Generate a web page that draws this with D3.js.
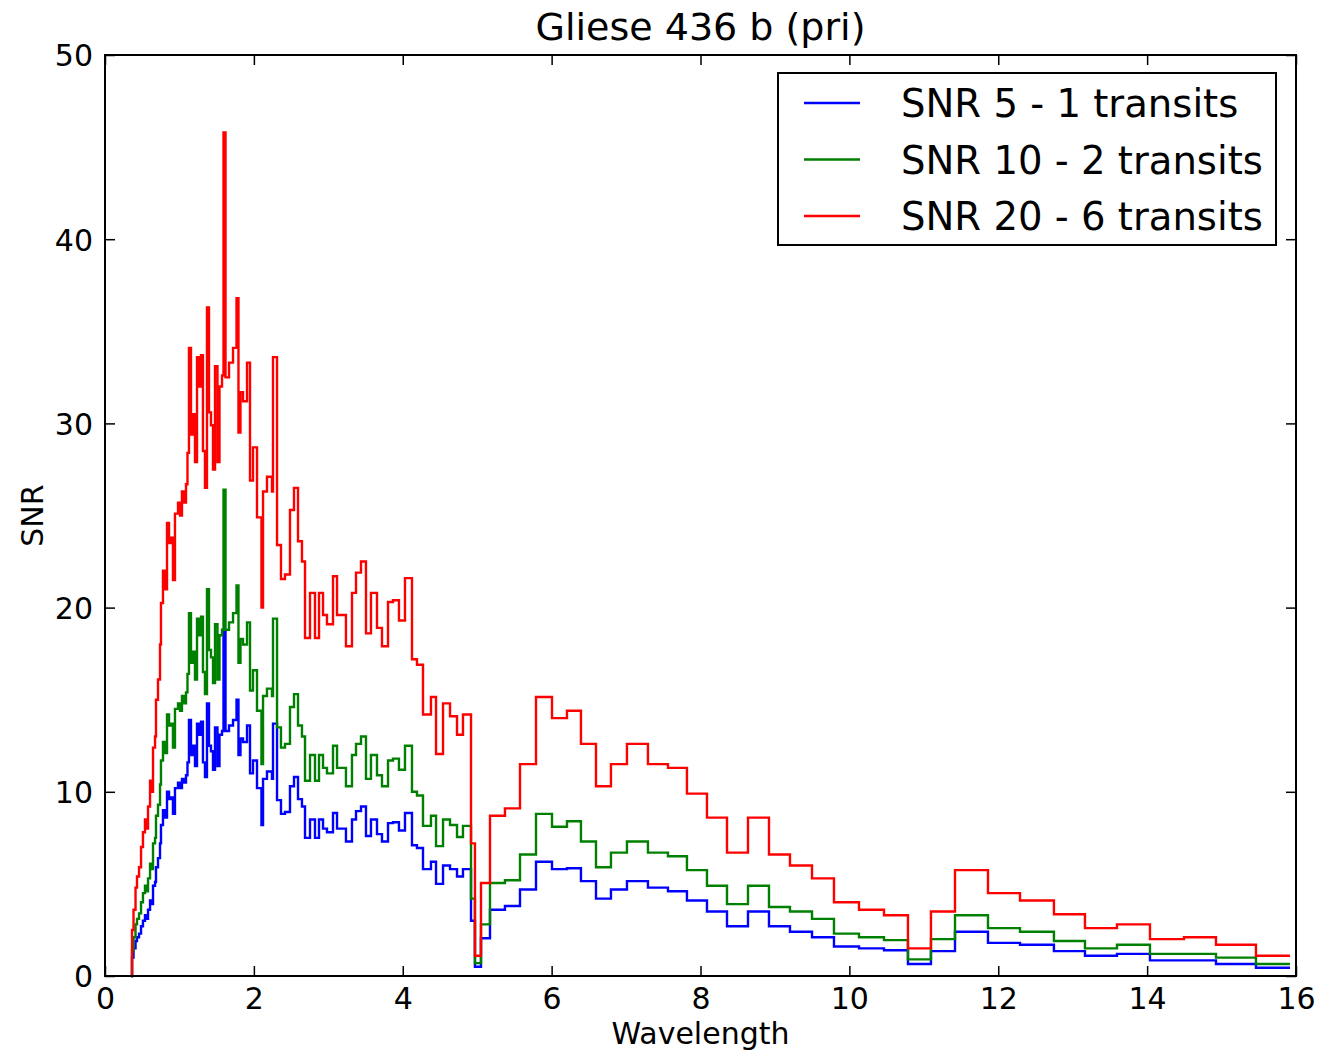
<!DOCTYPE html>
<html>
<head>
<meta charset="utf-8">
<script src="https://cdn.jsdelivr.net/npm/d3@7/dist/d3.min.js"></script>
<style>
  html, body { margin: 0; padding: 0; background: #fff; }
  svg { display: block; font-family: "DejaVu Sans", sans-serif; }
</style>
</head>
<body>
<svg id="chart" width="1317" height="1053"></svg>
<script>
// ---- data ----
const title = "Gliese 436 b (pri)";
const xLabel = "Wavelength";
const yLabel = "SNR";
const xTicks = [0, 2, 4, 6, 8, 10, 12, 14, 16];
const yTicks = [0, 10, 20, 30, 40, 50];
const seriesNames = ["SNR 5 - 1 transits", "SNR 10 - 2 transits", "SNR 20 - 6 transits"];

// left edges of wavelength bins (last entry = right edge of last bin)
const binEdges = [
  0.350, 0.363, 0.383, 0.410, 0.430, 0.457, 0.484, 0.510, 0.537, 0.564, 0.578,
  0.605, 0.631, 0.645, 0.672, 0.685, 0.712, 0.739, 0.752, 0.779, 0.806,
  0.833, 0.860, 0.887, 0.913, 0.940, 0.981, 1.008, 1.034, 1.061, 1.088,
  1.108, 1.128, 1.155, 1.182, 1.209, 1.236, 1.263, 1.290, 1.316, 1.343,
  1.370, 1.397, 1.424, 1.451, 1.478, 1.511, 1.538, 1.572, 1.592, 1.619,
  1.666, 1.720, 1.767, 1.793, 1.820, 1.854, 1.908, 1.948, 1.988, 2.042,
  2.102, 2.123, 2.176, 2.243, 2.257, 2.311, 2.364, 2.418, 2.485, 2.539,
  2.593, 2.646, 2.687, 2.754, 2.821, 2.875, 2.929, 2.982, 3.063, 3.117,
  3.237, 3.318, 3.372, 3.439, 3.506, 3.573, 3.654, 3.721, 3.802, 3.869,
  3.949, 4.030, 4.124, 4.191, 4.272, 4.379, 4.447, 4.541, 4.635, 4.729,
  4.809, 4.917, 4.970, 5.051, 5.172, 5.373, 5.575, 5.790, 6.005, 6.206,
  6.394, 6.596, 6.797, 7.012, 7.294, 7.563, 7.818, 8.087, 8.356, 8.638,
  8.920, 9.202, 9.498, 9.793, 10.129, 10.465, 10.787, 11.096, 11.419, 11.862,
  12.292, 12.748, 13.165, 13.595, 14.038, 14.495, 14.925, 15.462, 15.919
];

const snr5 = [
  0, 1.0, 1.5, 1.9, 2.1, 2.3, 2.7, 3.0, 3.3, 3.1, 3.6,
  4.1, 3.9, 4.9, 5.1, 5.9, 6.4, 7.2, 8.2, 9.0, 8.6,
  10.0, 9.6, 9.7, 8.8, 10.2, 10.5, 10.2, 10.7, 10.5, 10.9,
  11.6, 13.9, 12.0, 12.5, 11.4, 13.7, 13.1, 13.8, 11.6, 10.8,
  14.8, 12.5, 12.2, 11.2, 13.5, 11.4, 13.1, 13.3, 18.7, 13.3,
  13.6, 13.9, 15.0, 12.0, 12.9, 12.7, 13.6, 11.0, 11.7, 10.2,
  8.2, 10.7, 11.1, 10.7, 13.7, 9.55, 8.8, 8.9, 10.3, 10.8,
  9.6, 9.2, 7.5, 8.5, 7.5, 8.5, 8.0, 7.8, 8.85, 8.0,
  7.3, 8.5, 8.95, 9.2, 7.6, 8.5, 7.7, 7.3, 8.3, 8.35,
  7.9, 8.85, 7.1, 6.95, 5.8, 6.2, 5.0, 6.0, 5.8, 5.4,
  5.8, 3.0, 0.5, 2.05, 3.6, 3.8, 4.7, 6.2, 5.8, 5.85,
  5.15, 4.2, 4.7, 5.15, 4.8, 4.6, 4.1, 3.5, 2.7, 3.5,
  2.7, 2.4, 2.1, 1.6, 1.5, 1.4, 0.65, 1.35, 2.4, 1.8,
  1.7, 1.35, 1.1, 1.2, 0.85, 0.85, 0.65, 0.45
];

const snr10 = [
  0, 1.4, 2.1, 2.8, 3.1, 3.4, 4.0, 4.5, 4.9, 4.6, 5.3,
  6.1, 5.8, 7.2, 7.5, 8.7, 9.3, 10.4, 11.7, 12.7, 12.1,
  14.2, 13.6, 13.7, 12.4, 14.5, 14.8, 14.4, 15.2, 14.8, 15.4,
  16.4, 19.7, 17.0, 17.6, 16.1, 19.4, 18.5, 19.5, 16.5, 15.3,
  21.0, 17.7, 17.3, 15.9, 19.1, 16.1, 18.5, 18.8, 26.4, 18.8,
  19.2, 19.7, 21.2, 17.0, 18.3, 18.0, 19.2, 15.5, 16.6, 14.4,
  11.5, 15.2, 15.6, 15.2, 19.4, 13.5, 12.4, 12.6, 14.6, 15.3,
  13.6, 13.0, 10.6, 12.0, 10.6, 12.0, 11.3, 11.0, 12.5, 11.3,
  10.3, 12.0, 12.6, 13.0, 10.7, 12.0, 10.9, 10.3, 11.7, 11.8,
  11.2, 12.5, 10.0, 9.8, 8.15, 8.7, 7.05, 8.5, 8.2, 7.55,
  8.15, 4.2, 0.7, 2.8, 5.05, 5.2, 6.6, 8.8, 8.1, 8.4,
  7.3, 5.9, 6.7, 7.3, 6.7, 6.5, 5.75, 4.9, 3.9, 4.9,
  3.75, 3.5, 3.1, 2.3, 2.1, 1.95, 0.9, 2.0, 3.3, 2.6,
  2.4, 1.9, 1.5, 1.7, 1.2, 1.2, 1.0, 0.65
];

const snr20 = [
  0, 2.5, 3.6, 4.8, 5.4, 5.9, 7.0, 7.8, 8.5, 8.0, 9.2,
  10.6, 10.0, 12.4, 13.0, 15.0, 16.1, 18.0, 20.25, 22.0, 21.0,
  24.6, 23.5, 23.8, 21.5, 25.1, 25.7, 25.0, 26.3, 25.7, 26.7,
  28.4, 34.1, 29.4, 30.5, 27.9, 33.6, 32.0, 33.7, 28.5, 26.5,
  36.3, 30.6, 29.9, 27.5, 33.1, 27.9, 32.0, 32.6, 45.8, 32.5,
  33.3, 34.1, 36.8, 29.5, 31.7, 31.2, 33.3, 26.9, 28.7, 24.9,
  20.0, 26.3, 27.1, 26.3, 33.6, 23.4, 21.55, 21.8, 25.3, 26.5,
  23.6, 22.5, 18.35, 20.8, 18.35, 20.8, 19.6, 19.1, 21.7, 19.6,
  17.9, 20.8, 21.9, 22.5, 18.6, 20.8, 18.9, 17.9, 20.3, 20.4,
  19.3, 21.6, 17.2, 16.9, 14.2, 15.15, 12.05, 14.8, 14.1, 13.1,
  14.2, 7.2, 1.1, 5.05, 8.7, 9.1, 11.5, 15.15, 14.0, 14.4,
  12.6, 10.3, 11.5, 12.6, 11.5, 11.3, 9.9, 8.6, 6.7, 8.6,
  6.6, 6.0, 5.3, 4.0, 3.6, 3.3, 1.5, 3.5, 5.75, 4.5,
  4.1, 3.35, 2.6, 2.8, 2.0, 2.1, 1.7, 1.1
];

const seriesColors = ["#0000ff", "#008000", "#ff0000"];

// ---- layout ----
const svg = d3.select("#chart");
const W = 1317, H = 1053;
const margin = { left: 105, right: W - 1296, top: 55, bottom: H - 976 };
const x = d3.scaleLinear().domain([0, 16]).range([margin.left, W - margin.right]);
const y = d3.scaleLinear().domain([0, 50]).range([H - margin.bottom, margin.top]);

const plot = svg.append("g");

// step series
const allSeries = [snr5, snr10, snr20];
const line = d3.line()
  .x(d => x(d[0]))
  .y(d => y(d[1]))
  .curve(d3.curveStepAfter);

allSeries.forEach((vals, si) => {
  const pts = vals.map((v, i) => [binEdges[i], v]);
  pts.push([binEdges[vals.length], vals[vals.length - 1]]);
  plot.append("path")
    .datum(pts)
    .attr("fill", "none")
    .attr("stroke", seriesColors[si])
    .attr("stroke-width", 2.4)
    .attr("stroke-linejoin", "miter")
    .attr("d", line);
});

// frame
const x0 = x(0), x1 = x(16), y0 = y(0), y1 = y(50);
svg.append("rect")
  .attr("x", x0).attr("y", y1)
  .attr("width", x1 - x0).attr("height", y0 - y1)
  .attr("fill", "none").attr("stroke", "#000").attr("stroke-width", 2);

// ticks (inside, on all four sides)
const tlen = 10;
const tickFont = 30;
const axBottom = d3.axisBottom(x).tickValues(xTicks).tickSize(-tlen).tickPadding(12).tickFormat(d3.format("d"));
const axTop = d3.axisTop(x).tickValues(xTicks).tickSize(-tlen).tickFormat("");
const axLeft = d3.axisLeft(y).tickValues(yTicks).tickSize(-tlen).tickPadding(12).tickFormat(d3.format("d"));
const axRight = d3.axisRight(y).tickValues(yTicks).tickSize(-tlen).tickFormat("");

function styleAxis(g) {
  g.select(".domain").remove();
  g.selectAll(".tick line").attr("stroke", "#000").attr("stroke-width", 1.5);
  g.selectAll(".tick text")
    .attr("fill", "#000")
    .style("font-family", "'DejaVu Sans', sans-serif")
    .style("font-size", tickFont + "px");
}
svg.append("g").attr("transform", `translate(0,${y0})`).call(axBottom).call(styleAxis)
  .selectAll(".tick text").attr("dy", "0.71em");
svg.append("g").attr("transform", `translate(0,${y1})`).call(axTop).call(styleAxis);
svg.append("g").attr("transform", `translate(${x0},0)`).call(axLeft).call(styleAxis)
  .selectAll(".tick text").attr("dy", "0.36em");
svg.append("g").attr("transform", `translate(${x1},0)`).call(axRight).call(styleAxis);

// title and axis labels
svg.append("text")
  .attr("x", (x0 + x1) / 2).attr("y", 40)
  .attr("text-anchor", "middle")
  .style("font-size", "38px").attr("fill", "#000")
  .text(title);

svg.append("text")
  .attr("x", (x0 + x1) / 2).attr("y", 1044)
  .attr("text-anchor", "middle")
  .style("font-size", "30px").attr("fill", "#000")
  .text(xLabel);

svg.append("text")
  .attr("transform", `translate(43,${(y0 + y1) / 2}) rotate(-90)`)
  .attr("text-anchor", "middle")
  .style("font-size", "30px").attr("fill", "#000")
  .text(yLabel);

// legend
const lg = svg.append("g");
lg.append("rect")
  .attr("x", 778).attr("y", 73).attr("width", 498).attr("height", 172)
  .attr("fill", "#fff").attr("stroke", "#000").attr("stroke-width", 2);
seriesNames.forEach((name, i) => {
  const ly = 103 + i * 56.5;
  lg.append("line")
    .attr("x1", 804).attr("x2", 860).attr("y1", ly).attr("y2", ly)
    .attr("stroke", seriesColors[i]).attr("stroke-width", 2.4);
  lg.append("text")
    .attr("x", 901).attr("y", ly + 14)
    .style("font-size", "38.6px").attr("fill", "#000")
    .text(name);
});
</script>
</body>
</html>
